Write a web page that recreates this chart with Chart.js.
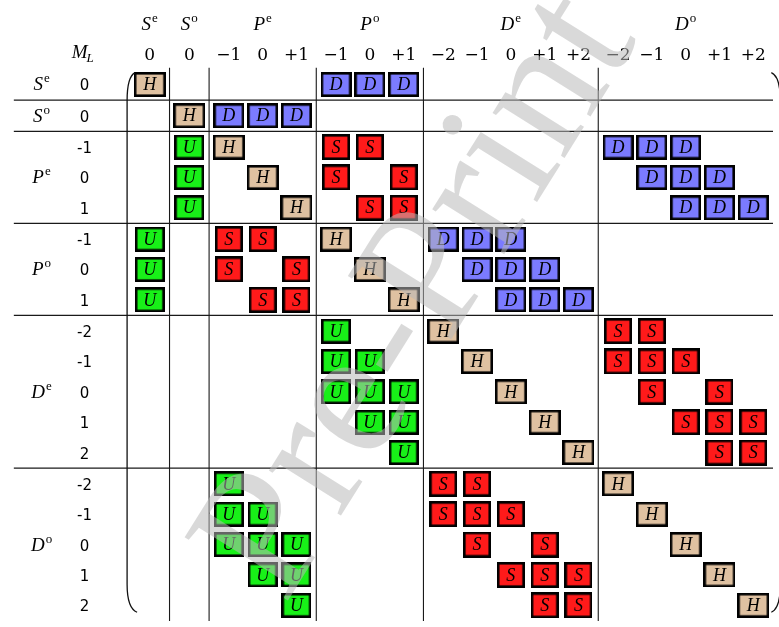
<!DOCTYPE html>
<html><head><meta charset="utf-8">
<script src="https://cdn.jsdelivr.net/npm/chart.js@4/dist/chart.umd.min.js"></script>
<style>html,body{margin:0;padding:0;background:#fff;}canvas{display:block;}</style>
</head><body>
<canvas id="c" width="779" height="627"></canvas>
<script>
// ---- data ----
const termLetters = ['S','S','P','P','D','D'];
const termParities = ['e','o','e','o','e','o'];
const termMLs = [[0],[0],[-1,0,1],[-1,0,1],[-2,-1,0,1,2],[-2,-1,0,1,2]];
const colTickLabels = ['0','0','\u22121','0','+1','\u22121','0','+1','\u22122','\u22121','0','+1','+2','\u22122','\u22121','0','+1','+2'];
const rowTickLabels = ['0','0','-1','0','1','-1','0','1','-2','-1','0','1','2','-2','-1','0','1','2'];
// cells as [row state index, column state index]
const hCells = [[0,0],[1,1],[2,2],[3,3],[4,4],[5,5],[6,6],[7,7],[8,8],[9,9],[10,10],[11,11],[12,12],[13,13],[14,14],[15,15],[16,16],[17,17]];
const dCells = [[0,5],[0,6],[0,7],[1,2],[1,3],[1,4],[2,13],[2,14],[2,15],[3,14],[3,15],[3,16],[4,15],[4,16],[4,17],[5,8],[5,9],[5,10],[6,9],[6,10],[6,11],[7,10],[7,11],[7,12]];
const uCells = [[2,1],[3,1],[4,1],[5,0],[6,0],[7,0],[8,5],[9,5],[9,6],[10,5],[10,6],[10,7],[11,6],[11,7],[12,7],[13,2],[14,2],[14,3],[15,2],[15,3],[15,4],[16,3],[16,4],[17,4]];
const sCells = [[2,5],[2,6],[3,5],[3,7],[4,6],[4,7],[5,2],[5,3],[6,2],[6,4],[7,3],[7,4],[8,13],[8,14],[9,13],[9,14],[9,15],[10,14],[10,16],[11,15],[11,16],[11,17],[12,16],[12,17],[13,8],[13,9],[14,8],[14,9],[14,10],[15,9],[15,11],[16,10],[16,11],[16,12],[17,11],[17,12]];
const watermarkText = 'Pre-Print';

// ---- layout helpers ----
const COL_GAP = 0.17, ROW_GAP = 0.03;
const groupOf = [];
termMLs.forEach((mls, g) => mls.forEach(() => groupOf.push(g)));
const colPos = i => i + COL_GAP * groupOf[i];
const rowPos = i => i + ROW_GAP * groupOf[i];
const groupFirst = termMLs.map((_, g) => groupOf.indexOf(g));
const groupLast = termMLs.map((_, g) => groupOf.lastIndexOf(g));

const X_MIN = -4.2516, X_MAX = 18.4333, Y_MIN = -2.584, Y_MAX = 17.668;

function makeBox(w, h, fill) {
  const c = document.createElement('canvas');
  c.width = w; c.height = h;
  const x = c.getContext('2d');
  x.fillStyle = fill; x.fillRect(0, 0, w, h);
  x.strokeStyle = '#000'; x.lineWidth = 2.6;
  x.strokeRect(1.3, 1.3, w - 2.6, h - 2.6);
  return c;
}
const boxStyles = {
  H: makeBox(32, 25, '#dfc1a1'),
  D: makeBox(31, 25, '#7b7bff'),
  U: makeBox(30, 25, '#18f018'),
  S: makeBox(28, 26, '#ff1a1a')
};
const cellSets = {H: hCells, D: dCells, U: uCells, S: sCells};

const datasets = [];
Object.keys(cellSets).forEach(k => {
  datasets.push({
    label: k, letter: k,
    data: cellSets[k].map(([r, c]) => ({x: colPos(c), y: rowPos(r)})),
    pointStyle: boxStyles[k], pointRadius: 5, showLine: false
  });
});
// separators between term groups
for (let g = 0; g < termMLs.length - 1; g++) {
  const xm = (colPos(groupLast[g]) + colPos(groupFirst[g + 1])) / 2;
  const ym = (rowPos(groupLast[g]) + rowPos(groupFirst[g + 1])) / 2;
  datasets.push({label: 'v' + g, data: [{x: xm, y: -0.55}, {x: xm, y: Y_MAX}], showLine: true, pointRadius: 0, borderColor: '#1a1a1a', borderWidth: 1.1});
  datasets.push({label: 'h' + g, data: [{x: -4.02, y: ym}, {x: X_MAX, y: ym}], showLine: true, pointRadius: 0, borderColor: '#1a1a1a', borderWidth: 1.1});
}

const SERIF = '"Liberation Serif", "DejaVu Serif", serif';
function drawMath(ctx, x, base, letter, sup, sub, size) {
  size = size || 19;
  ctx.font = 'italic ' + size + 'px ' + SERIF;
  const w1 = ctx.measureText(letter).width;
  const small = Math.round(size * 0.7);
  ctx.font = (sub ? 'italic ' : '') + small + 'px ' + SERIF;
  const w2 = ctx.measureText(sup || sub).width;
  const start = x - (w1 + w2 + 1) / 2;
  ctx.textAlign = 'left'; ctx.textBaseline = 'alphabetic';
  ctx.font = 'italic ' + size + 'px ' + SERIF;
  ctx.fillText(letter, start, base);
  ctx.font = (sub ? 'italic ' : '') + small + 'px ' + SERIF;
  if (sup) ctx.fillText(sup, start + w1 + 1, base - 8);
  if (sub) ctx.fillText(sub, start + w1 - 1, base + 4);
}

const decor = {
  id: 'decor',
  afterDatasetsDraw(chart) {
    const ctx = chart.ctx;
    ctx.save();
    ctx.fillStyle = '#000';
    ctx.textAlign = 'center'; ctx.textBaseline = 'middle';
    ctx.font = 'italic 18px ' + SERIF;
    chart.data.datasets.forEach((ds, di) => {
      if (!ds.letter) return;
      chart.getDatasetMeta(di).data.forEach(el => ctx.fillText(ds.letter, el.x, el.y + 1));
    });
    ctx.restore();
  },
  afterDraw(chart) {
    const ctx = chart.ctx, xs = chart.scales.x, ys = chart.scales.y;
    ctx.save();
    ctx.fillStyle = '#000';
    // column headers
    const hdrBase = ys.getPixelForValue(-1.78);
    const numBase = ys.getPixelForValue(-0.8);
    termLetters.forEach((L, g) => {
      const xc = xs.getPixelForValue((colPos(groupFirst[g]) + colPos(groupLast[g])) / 2);
      drawMath(ctx, xc, hdrBase, L, termParities[g]);
      const yc = ys.getPixelForValue((rowPos(groupFirst[g]) + rowPos(groupLast[g])) / 2);
      drawMath(ctx, xs.getPixelForValue(-3.2), yc + 6, L, termParities[g]);
    });
    drawMath(ctx, xs.getPixelForValue(-1.95), numBase - 2, 'M', null, 'L');
    ctx.textAlign = 'center'; ctx.textBaseline = 'alphabetic';
    ctx.font = '17px "DejaVu Serif", serif';
    colTickLabels.forEach((t, i) => ctx.fillText(t, xs.getPixelForValue(colPos(i)), numBase));
    ctx.font = '15px "DejaVu Sans", sans-serif';
    rowTickLabels.forEach((t, i) => ctx.fillText(t, xs.getPixelForValue(-1.93), ys.getPixelForValue(rowPos(i)) + 6));
    // matrix parentheses
    ctx.strokeStyle = '#111'; ctx.lineWidth = 1.3;
    const lx = xs.getPixelForValue(-0.67), ty = ys.getPixelForValue(-0.39), by = ys.getPixelForValue(17.38);
    ctx.beginPath();
    ctx.moveTo(lx + 8, ty); ctx.quadraticCurveTo(lx, ty + 4, lx, ty + 28);
    ctx.lineTo(lx, by - 28); ctx.quadraticCurveTo(lx, by - 4, lx + 10, by);
    ctx.stroke();
    const rx = xs.getPixelForValue(18.65);
    ctx.beginPath();
    ctx.moveTo(rx - 9, ty); ctx.quadraticCurveTo(rx, ty + 4, rx, ty + 28);
    ctx.lineTo(rx, by - 28); ctx.quadraticCurveTo(rx, by - 4, rx - 9, by);
    ctx.stroke();
    // watermark
    ctx.translate(xs.getPixelForValue(8.0), ys.getPixelForValue(7.0));
    ctx.rotate(-58 * Math.PI / 180);
    ctx.fillStyle = 'rgba(185,185,185,0.54)';
    ctx.font = '185px "Liberation Serif", serif';
    ctx.textAlign = 'center'; ctx.textBaseline = 'middle';
    ctx.fillText(watermarkText, 0, 0);
    ctx.restore();
  }
};

new Chart(document.getElementById('c'), {
  type: 'scatter',
  data: {datasets},
  options: {
    responsive: false, animation: false, devicePixelRatio: 1, events: [],
    layout: {padding: 0},
    plugins: {legend: {display: false}, tooltip: {enabled: false}},
    scales: {
      x: {type: 'linear', min: X_MIN, max: X_MAX, display: false},
      y: {type: 'linear', min: Y_MIN, max: Y_MAX, reverse: true, display: false}
    }
  },
  plugins: [decor]
});
</script>
</body></html>
